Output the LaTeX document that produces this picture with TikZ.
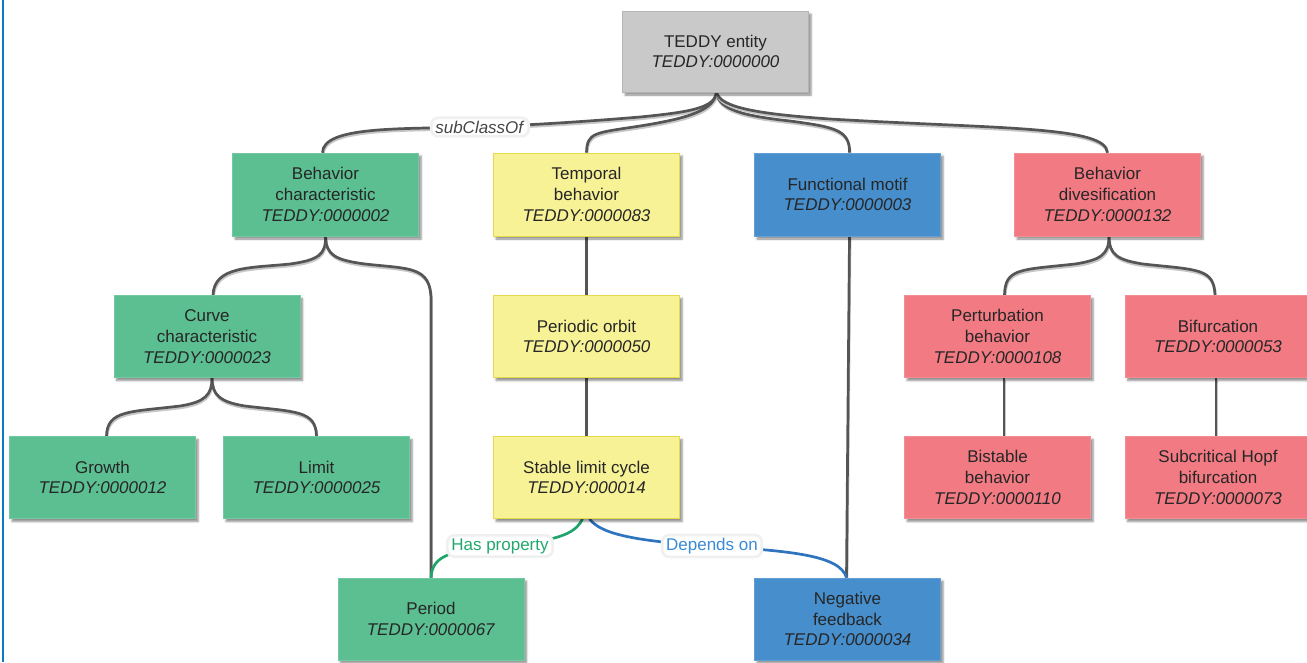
\documentclass[tikz,border=0pt]{standalone}
\usepackage{fontspec}
\setmainfont{Liberation Sans}
\usetikzlibrary{shadows.blur}
\definecolor{cgray}{HTML}{C9C9C9}
\definecolor{cgreen}{HTML}{5CBF91}
\definecolor{cyellow}{HTML}{F8F297}
\definecolor{cyellowb}{HTML}{E6D94E}
\definecolor{cblue}{HTML}{478ECC}
\definecolor{cpink}{HTML}{F27A83}
\definecolor{txt}{HTML}{262626}
\definecolor{lnk}{HTML}{555555}
\definecolor{egreen}{HTML}{1FA56B}
\definecolor{tgreen}{HTML}{22A86D}
\definecolor{eblue}{HTML}{2F74BF}
\definecolor{tblue}{HTML}{3A8AD6}
\definecolor{edgeblue}{HTML}{0B7BC1}
\pgfdeclarelayer{bg}
\pgfsetlayers{bg,main}
\begin{document}
\begin{tikzpicture}[x=1pt,y=-1pt,
  box/.style={rectangle, minimum width=186pt, minimum height=82pt, inner sep=0pt,
    align=center, text=txt, font=\fontsize{17}{20.7}\selectfont,
    blur shadow={shadow xshift=2.5pt, shadow yshift=-3pt, shadow blur steps=5, shadow opacity=45}},
  gbox/.style={box, fill=cgray, draw=cgray!90!black, line width=0.4pt},
  grbox/.style={box, fill=cgreen, draw=cgreen!85!white, line width=0.6pt},
  ybox/.style={box, fill=cyellow, draw=cyellowb, line width=0.8pt},
  bbox/.style={box, fill=cblue, draw=cblue!85!white, line width=0.6pt},
  pbox/.style={box, fill=cpink, draw=cpink!85!white, line width=0.6pt},
  conn/.style={draw=lnk, line width=2.7pt,
    preaction={draw=black!22, line width=2.6pt, transform canvas={xshift=0.6pt,yshift=-1.9pt}}},
  relg/.style={draw=egreen, line width=2.7pt},
  relb/.style={draw=eblue, line width=2.7pt},
  lbl/.style={fill=white, rounded corners=7pt, inner xsep=4pt, inner ysep=3pt,
    font=\fontsize{17}{20}\selectfont, draw=black!6}
]
\path[use as bounding box] (0,0) rectangle (1307,662);
\clip (0,0) rectangle (1307,662);
\draw[draw=edgeblue, line width=2pt] (2.5,0) -- (2.5,662);

% nodes
\node[gbox, minimum height=81pt] (root) at (715.5,51.5) {TEDDY entity\\\textit{TEDDY:0000000}};
\node[grbox, minimum height=83pt] (bc) at (325.5,194.5) {Behavior\\characteristic\\\textit{TEDDY:0000002}};
\node[ybox, minimum height=83pt] (tb) at (586.5,194.5) {Temporal\\behavior\\\textit{TEDDY:0000083}};
\node[bbox, minimum height=83pt] (fm) at (847.5,194.5) {Functional motif\\\textit{TEDDY:0000003}};
\node[pbox, minimum height=83pt] (bd) at (1107.5,194.5) {Behavior\\divesification\\\textit{TEDDY:0000132}};
\node[grbox] (cc) at (207,336.5) {Curve\\characteristic\\\textit{TEDDY:0000023}};
\node[ybox] (po) at (586.5,336.5) {Periodic orbit\\\textit{TEDDY:0000050}};
\node[pbox] (pb) at (997.5,336.5) {Perturbation\\behavior\\\textit{TEDDY:0000108}};
\node[pbox] (bif) at (1218,336.5) {Bifurcation\\\textit{TEDDY:0000053}};
\node[grbox] (gr) at (102.5,477.5) {Growth\\\textit{TEDDY:0000012}};
\node[grbox] (lim) at (316.5,477.5) {Limit\\\textit{TEDDY:0000025}};
\node[ybox] (slc) at (586.5,477.5) {Stable limit cycle\\\textit{TEDDY:000014}};
\node[pbox] (bb) at (997.5,477.5) {Bistable\\behavior\\\textit{TEDDY:0000110}};
\node[pbox] (sh) at (1218,477.5) {Subcritical Hopf\\bifurcation\\\textit{TEDDY:0000073}};
\node[grbox] (per) at (431,619) {Period\\\textit{TEDDY:0000067}};
\node[bbox] (nf) at (847.5,619) {Negative\\feedback\\\textit{TEDDY:0000034}};

\begin{pgfonlayer}{bg}
% root fan
\draw[conn] ([xshift=1pt]root.south) .. controls (715,108) and (690,112) .. (640,117)
  .. controls (580,122) and (530,125) .. (480,127)
  node[lbl, text=txt!85]{\textit{subClassOf}}
  .. controls (400,129) and (323,126) .. ([xshift=-3pt]bc.north);
\draw[conn] ([xshift=1pt]root.south) .. controls (714,110) and (690,118) .. (640,126)
  .. controls (595,133) and (587,132) .. (tb.north);
\draw[conn] ([xshift=1pt]root.south) .. controls (718,110) and (745,116) .. (790,121)
  .. controls (835,127) and (850,130) .. ([xshift=2pt]fm.north);
\draw[conn] ([xshift=1pt]root.south) .. controls (720,108) and (760,114) .. (830,119)
  .. controls (1000,129) and (1106,126) .. (bd.north);
% behavior characteristic
\draw[conn] (bc.south) .. controls (326,255) and (318,260) .. (290,264)
  .. controls (250,268) and (214,266) .. ([xshift=6pt]cc.north);
\draw[conn] (bc.south) .. controls (326,255) and (335,260) .. (365,264)
  .. controls (410,269) and (431,266) .. (431,300) -- (per.north);
% curve characteristic
\draw[conn] ([xshift=5pt]cc.south) .. controls (212,395) and (205,402) .. (180,406)
  .. controls (130,412) and (107,410) .. ([xshift=4pt]gr.north);
\draw[conn] ([xshift=5pt]cc.south) .. controls (212,395) and (220,402) .. (245,406)
  .. controls (295,412) and (316,410) .. (lim.north);
% temporal chain
\draw[conn] (tb.south) -- (po.north);
\draw[conn] (po.south) -- (slc.north);
% functional motif
\draw[conn] ([xshift=2pt]fm.south) -- ([xshift=-1pt]nf.north);
% behavior divesification
\draw[conn] ([xshift=1.5pt]bd.south) .. controls (1109,255) and (1100,260) .. (1075,264)
  .. controls (1020,270) and (1005,268) .. ([xshift=7pt]pb.north);
\draw[conn] ([xshift=1.5pt]bd.south) .. controls (1109,255) and (1118,260) .. (1143,264)
  .. controls (1198,270) and (1214,268) .. ([xshift=-3pt]bif.north);
\draw[conn] ([xshift=6.5pt]pb.south) -- ([xshift=6.5pt]bb.north);
\draw[conn] ([xshift=-2pt]bif.south) -- ([xshift=-2pt]sh.north);
% relations
\draw[relg] ([xshift=-4pt]slc.south) .. controls (575,535) and (555,541) .. (500,546)
  node[lbl, text=tgreen]{Has property}
  .. controls (450,550) and (432,556) .. (per.north);
\draw[relb] ([xshift=3pt]slc.south) .. controls (600,533) and (630,541) .. (712,546)
  node[lbl, text=tblue]{Depends on}
  .. controls (790,551) and (840,555) .. ([xshift=-1pt]nf.north);
\end{pgfonlayer}
\end{tikzpicture}
\end{document}
